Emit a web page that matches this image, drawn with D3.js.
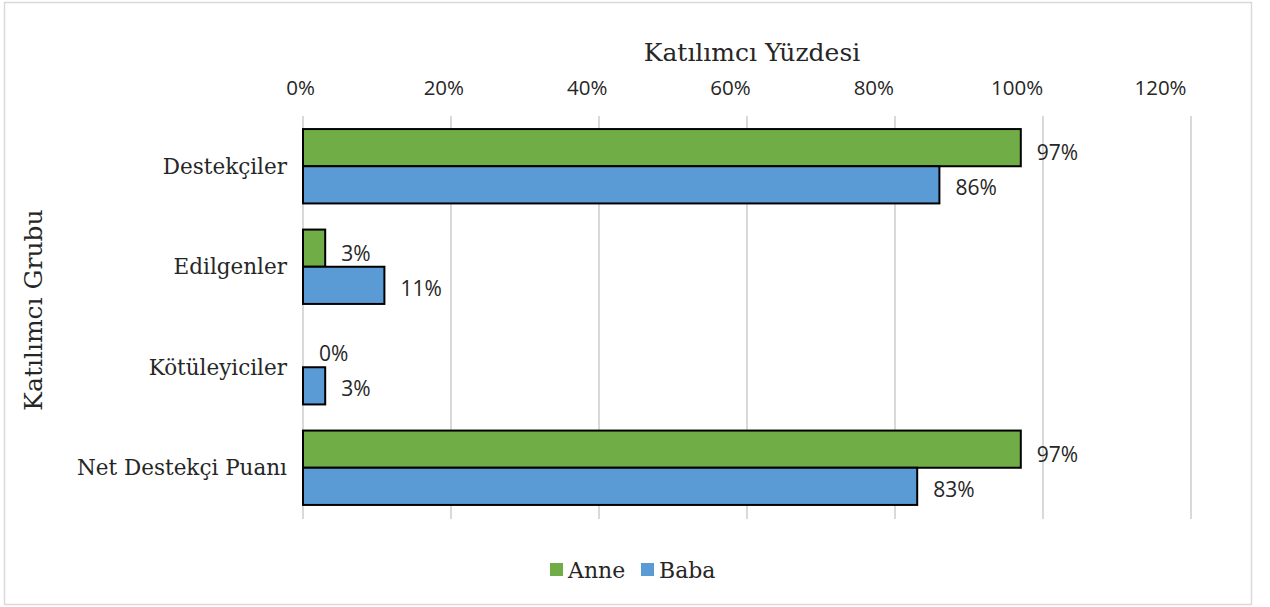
<!DOCTYPE html>
<html>
<head>
<meta charset="utf-8">
<script src="https://cdn.jsdelivr.net/npm/d3@7"></script>
<style>
  body { margin: 0; background: #fff; }
  .tick text { font-family: 'Open Sans', sans-serif; }
</style>
</head>
<body>
<div id="app"></div>
<script>
const categories = ['Destekçiler', 'Edilgenler', 'Kötüleyiciler', 'Net Destekçi Puanı'];
const series = ['Anne', 'Baba'];
const anneValues = [97, 3, 0, 97];
const babaValues = [86, 11, 3, 83];
const xTicks = [0, 20, 40, 60, 80, 100, 120];
const colors = ['#70AD47', '#5B9BD5'];

const rows = categories.map((c, i) => ({ cat: c, values: [anneValues[i], babaValues[i]] }));

const svg = d3.select('#app')
  .append('svg')
  .attr('width', 1270)
  .attr('height', 607);

// outer frame
svg.append('rect')
  .attr('x', 4.5)
  .attr('y', 2.5)
  .attr('width', 1247)
  .attr('height', 602)
  .attr('fill', '#fff')
  .attr('stroke', '#d9d9d9')
  .attr('stroke-width', 1.5);

const x = d3.scaleLinear().domain([0, 120]).range([303, 1191]);
// the top labels sit a little tighter than the gridlines in the original
const xLabel = d3.scaleLinear().domain([0, 120]).range([300, 1160]);
const y = d3.scaleBand().domain(categories).range([116, 518]).paddingInner(0.26).paddingOuter(0.13);
const ySub = d3.scaleBand().domain(series).range([0, y.bandwidth()]);

// gridlines
svg.append('g')
  .selectAll('line')
  .data(xTicks)
  .join('line')
  .attr('x1', d => x(d))
  .attr('x2', d => x(d))
  .attr('y1', 116)
  .attr('y2', 519)
  .attr('stroke', '#d9d9d9')
  .attr('stroke-width', 2);

// top axis labels
const xAxis = svg.append('g')
  .attr('transform', 'translate(0, 95)')
  .call(d3.axisTop(xLabel).tickValues(xTicks).tickFormat(d => d + '%').tickSize(0).tickPadding(0));
xAxis.select('.domain').remove();
xAxis.selectAll('text')
  .attr('font-size', 20.5)
  .attr('fill', '#262626');

// category labels
svg.append('g')
  .selectAll('text')
  .data(categories)
  .join('text')
  .attr('x', 287)
  .attr('y', d => y(d) + y.bandwidth() / 2)
  .attr('dy', '0.35em')
  .attr('text-anchor', 'end')
  .attr('font-family', 'DejaVu Serif, serif')
  .attr('font-size', 21.5)
  .attr('fill', '#262626')
  .text(d => d);

// bars
const groups = svg.append('g')
  .selectAll('g')
  .data(rows)
  .join('g')
  .attr('transform', d => `translate(0, ${y(d.cat)})`);

groups.selectAll('rect')
  .data(d => d.values.map((v, i) => ({ s: series[i], v: v, i: i })))
  .join('rect')
  .filter(d => d.v > 0)
  .attr('x', x(0))
  .attr('y', d => ySub(d.s))
  .attr('width', d => x(d.v) - x(0))
  .attr('height', ySub.bandwidth())
  .attr('fill', d => colors[d.i])
  .attr('stroke', '#000')
  .attr('stroke-width', 2);

groups.selectAll('text')
  .data(d => d.values.map((v, i) => ({ s: series[i], v: v, i: i })))
  .join('text')
  .attr('x', d => x(d.v) + 16)
  .attr('y', d => ySub(d.s) + ySub.bandwidth() / 2 + (d.i === 0 ? 5 : 3))
  .attr('dy', '0.35em')
  .attr('font-family', 'Open Sans, sans-serif')
  .attr('font-size', 21)
  .attr('fill', '#262626')
  .text(d => d.v + '%');

// axis titles
svg.append('text')
  .attr('x', 752)
  .attr('y', 52)
  .attr('dy', '0.35em')
  .attr('text-anchor', 'middle')
  .attr('font-family', 'DejaVu Serif, serif')
  .attr('font-size', 25)
  .attr('fill', '#262626')
  .text('Katılımcı Yüzdesi');

svg.append('text')
  .attr('transform', 'translate(33, 310) rotate(-90)')
  .attr('dy', '0.35em')
  .attr('text-anchor', 'middle')
  .attr('font-family', 'DejaVu Serif, serif')
  .attr('font-size', 25)
  .attr('fill', '#262626')
  .text('Katılımcı Grubu');

// legend
const legendX = [550, 641];
const legend = svg.append('g')
  .selectAll('g')
  .data(series)
  .join('g')
  .attr('transform', (d, i) => `translate(${legendX[i]}, 570)`);

legend.append('rect')
  .attr('x', 0)
  .attr('y', -7)
  .attr('width', 13)
  .attr('height', 13)
  .attr('fill', (d, i) => colors[i]);

legend.append('text')
  .attr('x', 18)
  .attr('y', 0)
  .attr('dy', '0.35em')
  .attr('font-family', 'DejaVu Serif, serif')
  .attr('font-size', 22)
  .attr('fill', '#262626')
  .text(d => d);
</script>
</body>
</html>
